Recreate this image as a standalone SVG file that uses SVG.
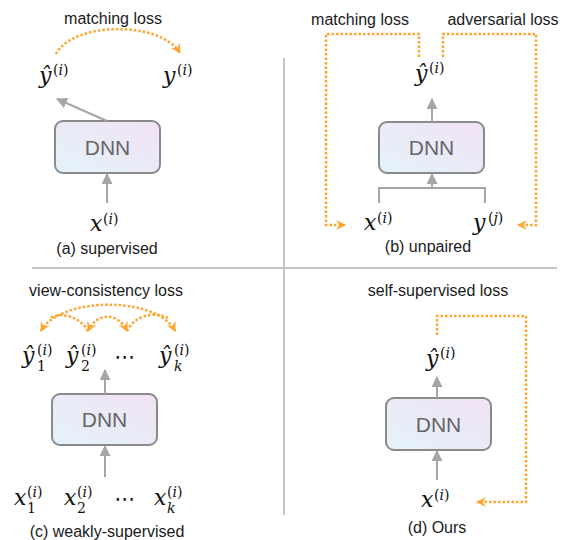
<svg xmlns="http://www.w3.org/2000/svg" width="563" height="540" viewBox="0 0 563 540">
<defs>
<linearGradient id="g" x1="0" y1="1" x2="1" y2="0">
<stop offset="0" stop-color="#E4F3FB"/>
<stop offset="1" stop-color="#F1E2F4"/>
</linearGradient>
<marker id="ga" viewBox="0 0 10 10" refX="9" refY="5" markerWidth="11" markerHeight="11" markerUnits="userSpaceOnUse" orient="auto"><path d="M0,0 L10,5 L0,10 z" fill="#A6A6A6"/></marker>
<marker id="oa" viewBox="0 0 10 10" refX="9" refY="5" markerWidth="10" markerHeight="10" markerUnits="userSpaceOnUse" orient="auto-start-reverse"><path d="M0,0 L10,5 L0,10 L3.5,5 z" fill="#FFA530"/></marker>
<style>
.lbl{font-family:"Liberation Sans",Arial,sans-serif;font-size:16px;fill:#1a1a1a}
.dnn{font-family:"Liberation Sans",Arial,sans-serif;font-size:21px;fill:#666666;text-anchor:middle}
.box{fill:url(#g);stroke:#8A8A8A;stroke-width:2}
.m{font-family:"DejaVu Serif",serif;font-style:italic;font-size:22px;fill:#111}
.s{font-family:"DejaVu Serif",serif;font-size:14px;fill:#111}
.i{font-style:italic}
.dots{font-family:"DejaVu Sans",sans-serif;font-size:21px;fill:#111;text-anchor:middle}
.g{fill:none;stroke:#A6A6A6;stroke-width:2}
.o{fill:none;stroke:#FFA530;stroke-width:2.5;stroke-dasharray:2.5 2}
.div{stroke:#C4C4C4;stroke-width:2;fill:none}
</style>
</defs>

<g id="dividers">
<line class="div" x1="32" y1="268" x2="557" y2="268"/>
<line class="div" x1="284" y1="58" x2="284" y2="515"/>
</g>

<!-- Panel a -->
<g id="a-label"><text class="lbl" x="113" y="24" text-anchor="middle">matching loss</text></g>
<g id="a-yhat"><text class="m" x="39" y="83">ŷ</text><text class="s" x="53" y="75">(<tspan class="i">i</tspan>)</text></g>
<g id="a-y"><text class="m" x="163" y="83">y</text><text class="s" x="177" y="75">(<tspan class="i">i</tspan>)</text></g>
<g id="a-dnn"><rect class="box" x="55" y="121" width="105" height="52" rx="8"/><text class="dnn" x="107.5" y="155">DNN</text></g>
<g id="a-x"><text class="m" x="90" y="231">x</text><text class="s" x="103" y="224">(<tspan class="i">i</tspan>)</text></g>
<g id="a-cap"><text class="lbl" x="107" y="254" text-anchor="middle">(a) supervised</text></g>

<!-- Panel b -->
<g id="b-label1"><text class="lbl" x="360" y="25" text-anchor="middle">matching loss</text></g>
<g id="b-label2"><text class="lbl" x="503" y="25" text-anchor="middle">adversarial loss</text></g>
<g id="b-yhat"><text class="m" x="415" y="81">ŷ</text><text class="s" x="429" y="73">(<tspan class="i">i</tspan>)</text></g>
<g id="b-dnn"><rect class="box" x="379" y="122" width="105" height="51" rx="8"/><text class="dnn" x="431.5" y="155">DNN</text></g>
<g id="b-x"><text class="m" x="364" y="230">x</text><text class="s" x="377" y="223">(<tspan class="i">i</tspan>)</text></g>
<g id="b-y"><text class="m" x="473" y="230">y</text><text class="s" x="488" y="223">(<tspan class="i">j</tspan>)</text></g>
<g id="b-cap"><text class="lbl" x="428" y="252" text-anchor="middle">(b) unpaired</text></g>

<!-- Panel c -->
<g id="c-label"><text class="lbl" x="106" y="296" text-anchor="middle">view-consistency loss</text></g>
<g id="c-y1"><text class="m" x="22" y="363">ŷ</text><text class="s" x="37" y="355">(<tspan class="i">i</tspan>)</text><text class="s" x="37" y="371">1</text></g>
<g id="c-y2"><text class="m" x="66" y="363">ŷ</text><text class="s" x="81" y="355">(<tspan class="i">i</tspan>)</text><text class="s" x="81" y="371">2</text></g>
<g id="c-ydots"><text class="dots" x="125" y="364">⋯</text></g>
<g id="c-yk"><text class="m" x="159" y="363">ŷ</text><text class="s" x="174" y="355">(<tspan class="i">i</tspan>)</text><text class="s i" x="174" y="371">k</text></g>
<g id="c-dnn"><rect class="box" x="52" y="394" width="105" height="51" rx="8"/><text class="dnn" x="104.5" y="427">DNN</text></g>
<g id="c-x1"><text class="m" x="14" y="505">x</text><text class="s" x="27" y="497">(<tspan class="i">i</tspan>)</text><text class="s" x="27" y="513">1</text></g>
<g id="c-x2"><text class="m" x="64" y="505">x</text><text class="s" x="77" y="497">(<tspan class="i">i</tspan>)</text><text class="s" x="77" y="513">2</text></g>
<g id="c-xdots"><text class="dots" x="125" y="506">⋯</text></g>
<g id="c-xk"><text class="m" x="154" y="505">x</text><text class="s" x="167" y="497">(<tspan class="i">i</tspan>)</text><text class="s i" x="167" y="513">k</text></g>
<g id="c-cap"><text class="lbl" x="107" y="537" text-anchor="middle">(c) weakly-supervised</text></g>

<!-- Panel d -->
<g id="d-label"><text class="lbl" x="438" y="296" text-anchor="middle">self-supervised loss</text></g>
<g id="d-yhat"><text class="m" x="426" y="366">ŷ</text><text class="s" x="440" y="358">(<tspan class="i">i</tspan>)</text></g>
<g id="d-dnn"><rect class="box" x="386" y="398" width="105" height="52" rx="8"/><text class="dnn" x="438.5" y="432">DNN</text></g>
<g id="d-x"><text class="m" x="421" y="507">x</text><text class="s" x="434" y="500">(<tspan class="i">i</tspan>)</text></g>
<g id="d-cap"><text class="lbl" x="437" y="533" text-anchor="middle">(d) Ours</text></g>

<g id="connectors">
<line class="g" x1="107" y1="121" x2="57" y2="99" marker-end="url(#ga)"/>
<line class="g" x1="107" y1="203" x2="107" y2="174" marker-end="url(#ga)"/>
<line class="g" x1="432" y1="122" x2="432" y2="99" marker-end="url(#ga)"/>
<path class="g" d="M379,203 V188 H485 V203"/>
<line class="g" x1="432" y1="188" x2="432" y2="174" marker-end="url(#ga)"/>
<line class="g" x1="105" y1="394" x2="105" y2="370" marker-end="url(#ga)"/>
<line class="g" x1="105" y1="477" x2="105" y2="446" marker-end="url(#ga)"/>
<line class="g" x1="437" y1="398" x2="437" y2="377" marker-end="url(#ga)"/>
<line class="g" x1="437" y1="480" x2="437" y2="451" marker-end="url(#ga)"/>
<path class="o" d="M56,54 C72,22 160,20 180,53" marker-end="url(#oa)"/>
<path class="o" d="M419,57 V34 H326 V225 H345" marker-end="url(#oa)"/>
<path class="o" d="M443,57 V34 H536 V225 H518" marker-end="url(#oa)"/>
<path class="o" d="M437,335 V316 H526 V502 H477" marker-end="url(#oa)"/>
<path class="o" d="M41,331 C60,296 158,296 175,331" marker-start="url(#oa)" marker-end="url(#oa)"/>
<path class="o" d="M88,331 C97,312 118,312 127,331" marker-start="url(#oa)" marker-end="url(#oa)"/>
<path class="o" d="M88,331 C80,316 60,312 50,318"/>
<path class="o" d="M127,331 C136,313 158,312 168,318"/>
</g>
</svg>
